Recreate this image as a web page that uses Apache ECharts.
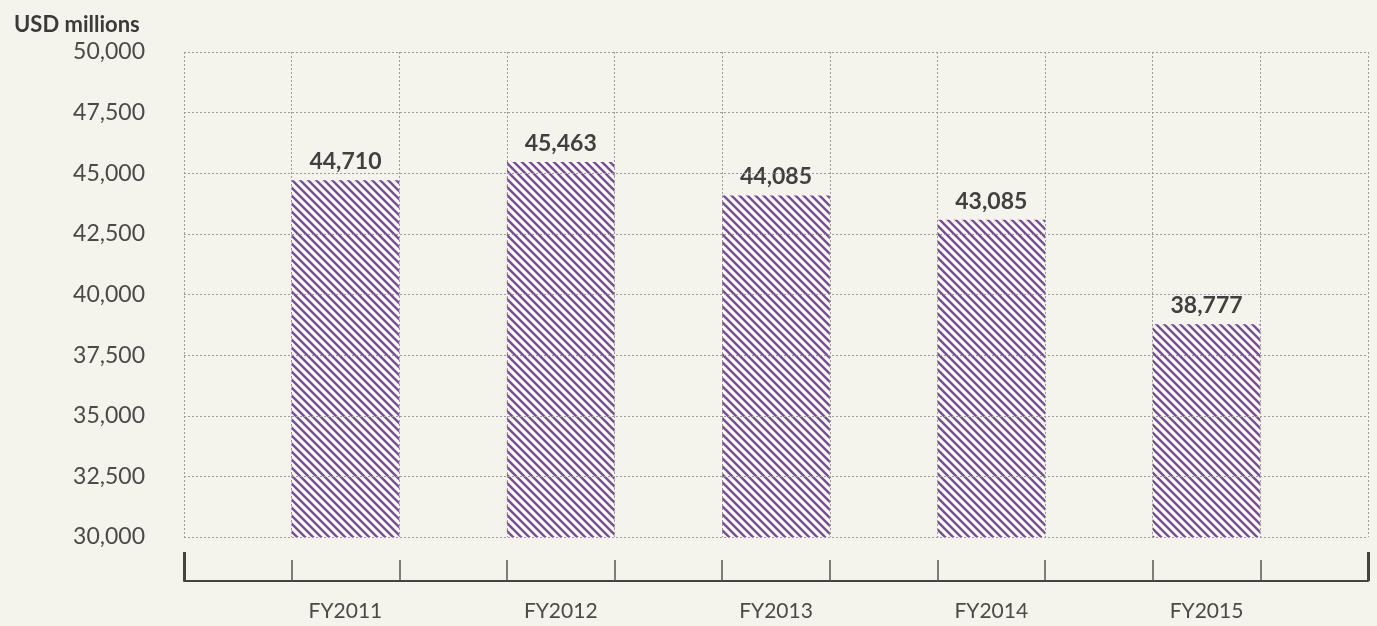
<!DOCTYPE html>
<html>
<head>
<meta charset="utf-8">
<script src="https://cdn.jsdelivr.net/npm/echarts@6/dist/echarts.min.js"></script>
<style>
  html, body { margin: 0; padding: 0; background: #f5f4ec; }
  #chart { width: 1377px; height: 626px; }
</style>
</head>
<body>
<div id="chart"></div>
<script>
// data
const years = ['FY2011', 'FY2012', 'FY2013', 'FY2014', 'FY2015']
const revenue = [44710, 45463, 44085, 43085, 38777]
const yMin = 30000
const yMax = 50000
const yStep = 2500

// bars sit in every other slot, with empty slots around them
const slots = ['']
const slotValues = [null]
years.forEach((y, i) => {
  slots.push(y, '')
  slotValues.push(revenue[i], null)
})

const withCommas = v => String(v).replace(/\B(?=(\d{3})+(?!\d))/g, ',')

// diagonal hatch fill
const makeHatch = () => {
  const s = 8
  const c = document.createElement('canvas')
  c.width = s
  c.height = s
  const ctx = c.getContext('2d')
  ctx.fillStyle = '#fbfaf5'
  ctx.fillRect(0, 0, s, s)
  ctx.strokeStyle = '#7a4b9b'
  ctx.lineWidth = 2.4
  ctx.beginPath()
  ctx.moveTo(-2, -2); ctx.lineTo(s + 2, s + 2)
  ctx.moveTo(-2, s - 2); ctx.lineTo(2, s + 2)
  ctx.moveTo(s - 2, -2); ctx.lineTo(s + 2, 2)
  ctx.stroke()
  return c
}

const chart = echarts.init(document.getElementById('chart'))

const option = {
  backgroundColor: '#f5f4ec',
  textStyle: { fontFamily: 'Lato, sans-serif' },
  title: {
    text: 'USD millions',
    left: 9,
    top: 9,
    textStyle: { fontSize: 22, fontWeight: 'bold', color: '#3a3a3a', fontFamily: 'Lato, sans-serif' }
  },
  grid: { left: 184, right: 9, top: 52, bottom: 89 },
  xAxis: [
    {
      type: 'category',
      data: slots,
      axisLine: { show: false },
      axisTick: { show: false },
      axisLabel: { show: false },
      splitLine: { show: true, interval: 0, lineStyle: { color: '#9c9c9c', type: [2, 2], width: 1 } }
    },
    {
      type: 'category',
      data: slots,
      position: 'bottom',
      offset: 44,
      axisLine: { show: true, lineStyle: { color: '#444', width: 2 } },
      axisTick: { show: true, inside: true, length: 21, interval: 0, lineStyle: { color: '#555', width: 1.5 } },
      axisLabel: { interval: 0, margin: 20, fontSize: 21, color: '#4a4a4a' },
      splitLine: { show: false }
    },
    {
      type: 'value',
      position: 'bottom',
      offset: 44,
      min: 0,
      max: slots.length,
      interval: slots.length,
      axisLine: { show: false },
      axisTick: { show: true, inside: true, length: 29, lineStyle: { color: '#444', width: 3 } },
      axisLabel: { show: false },
      splitLine: { show: false }
    }
  ],
  yAxis: {
    type: 'value',
    min: yMin,
    max: yMax,
    interval: yStep,
    axisLine: { show: false },
    axisTick: { show: false },
    axisLabel: { margin: 39, fontSize: 23, color: '#4a4a4a', formatter: withCommas },
    splitLine: { lineStyle: { color: '#9c9c9c', type: [2, 2], width: 1 } }
  },
  series: [
    {
      type: 'bar',
      xAxisIndex: 0,
      data: slotValues,
      barWidth: '100%',
      z: -1,
      itemStyle: { color: { image: makeHatch(), repeat: 'repeat' } },
      label: {
        show: true,
        position: 'top',
        distance: 7,
        fontSize: 23,
        fontWeight: 'bold',
        color: '#404040',
        formatter: p => withCommas(p.value)
      }
    }
  ]
}

chart.setOption(option)
</script>
</body>
</html>
